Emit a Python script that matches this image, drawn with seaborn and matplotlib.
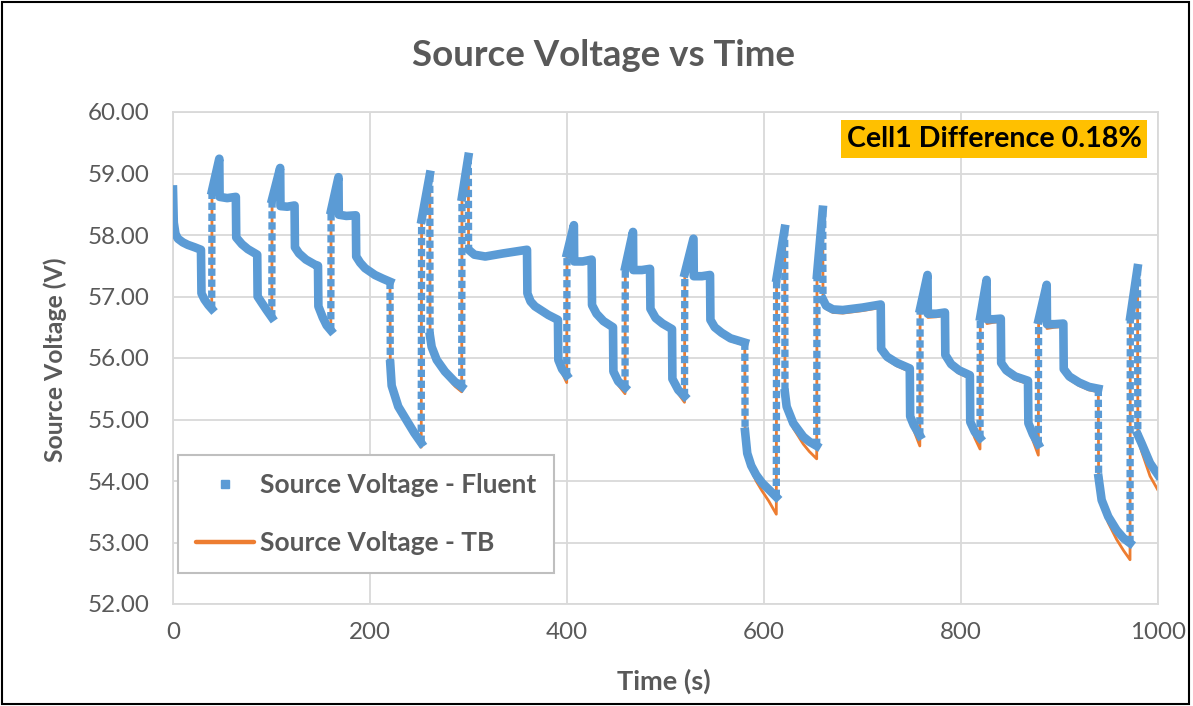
import numpy as np
import pandas as pd
import matplotlib
matplotlib.use("Agg")
import matplotlib.pyplot as plt
import seaborn as sns
from matplotlib.lines import Line2D
from matplotlib.patches import Rectangle

# ---------------- data ----------------
time_s = [
    0, 0.8, 2.5, 5, 10, 15, 22, 28.4, 28.9, 32, 36, 39.3,
    39.6, 47.0, 47.3, 55, 63.8, 64.2, 70, 76, 85.5, 85.9, 90, 95, 100.3,
    100.6, 108.8, 109.1, 116, 123.4, 123.8, 128, 135, 143.8, 147.2, 147.6, 152, 156, 160.2,
    160.5, 168, 168.3, 176, 185.6, 186, 190, 195, 205, 213, 220.3,
    220.6, 222, 228.7, 238.9, 245, 252,
    252.4, 260.7, 261.0, 262.6, 267.7, 276.1, 286.3, 293.1,
    293.4, 299.8, 300.1, 306, 317, 335, 359.4, 359.8, 363, 367.5, 381, 390.8, 391.2, 395, 399.7,
    400.0, 407, 407.3, 416, 425, 425.4, 430, 437, 446.7, 447.1, 452, 458.9,
    459.2, 467, 467.3, 476, 484.3, 484.7, 490, 497, 506.6, 507, 513, 519.3,
    519.6, 528.4, 528.7, 537, 545.2, 545.6, 550, 557, 566, 580.5,
    580.8, 583, 587, 592, 598, 605, 612.5,
    612.8, 621, 621.3, 623, 629.7, 639.9, 646, 653.5,
    653.8, 659.6, 659.9, 663, 670, 680, 700, 718.5, 718.9, 725, 735, 748, 748.4, 752, 758.2,
    758.5, 766, 766.3, 775, 783.7, 784.1, 790, 798, 809, 809.4, 814, 819.3,
    819.6, 826, 826.3, 833, 840.4, 840.8, 846, 855, 868, 868.4, 873, 878.5,
    878.8, 887, 887.3, 895, 903.9, 904.3, 910, 920, 930, 939.4,
    939.7, 942.8, 949.5, 958, 965, 971.6,
    971.9, 979.2, 979.5, 983.4, 991.9, 1000,
]

fluent_v = [
    58.74, 58.20, 58.02, 57.94, 57.88, 57.84, 57.80, 57.76, 57.05, 56.95, 56.86, 56.80,
    58.72, 59.24, 58.62, 58.60, 58.62, 57.96, 57.85, 57.77, 57.68, 57.00, 56.90, 56.78, 56.66,
    58.58, 59.09, 58.47, 58.46, 58.48, 57.80, 57.70, 57.60, 57.52, 57.50, 56.84, 56.66, 56.53, 56.45,
    58.40, 58.94, 58.33, 58.31, 58.32, 57.65, 57.55, 57.46, 57.35, 57.29, 57.24,
    55.90, 55.55, 55.21, 54.94, 54.78, 54.62,
    58.25, 58.98, 56.35, 56.18, 55.97, 55.78, 55.61, 55.53,
    58.62, 59.27, 57.76, 57.68, 57.65, 57.70, 57.76, 57.05, 56.92, 56.84, 56.70, 56.62, 55.97, 55.82, 55.72,
    57.70, 58.16, 57.57, 57.57, 57.60, 56.86, 56.72, 56.60, 56.50, 55.78, 55.62, 55.52,
    57.48, 58.05, 57.43, 57.43, 57.45, 56.80, 56.65, 56.56, 56.47, 55.66, 55.48, 55.38,
    57.38, 57.94, 57.33, 57.33, 57.35, 56.62, 56.50, 56.41, 56.32, 56.25,
    54.80, 54.45, 54.25, 54.10, 53.97, 53.86, 53.74,
    57.30, 58.10, 55.43, 55.21, 54.94, 54.72, 54.64, 54.57,
    57.35, 58.41, 56.95, 56.85, 56.79, 56.78, 56.82, 56.87, 56.15, 56.02, 55.92, 55.83, 55.05, 54.91, 54.74,
    56.80, 57.35, 56.72, 56.72, 56.74, 56.05, 55.90, 55.80, 55.72, 54.96, 54.80, 54.70,
    56.67, 57.27, 56.63, 56.63, 56.64, 55.92, 55.80, 55.70, 55.63, 54.94, 54.76, 54.60,
    56.62, 57.19, 56.55, 56.55, 56.56, 55.82, 55.70, 55.60, 55.53, 55.50,
    54.05, 53.69, 53.42, 53.20, 53.07, 52.99,
    56.67, 57.46, 54.75, 54.61, 54.29, 54.10,
]

tb_v = [
    58.74, 58.20, 58.02, 57.94, 57.88, 57.84, 57.80, 57.76, 57.05, 56.94, 56.84, 56.76,
    58.72, 59.24, 58.62, 58.60, 58.62, 57.96, 57.85, 57.77, 57.68, 57.00, 56.89, 56.76, 56.62,
    58.58, 59.09, 58.47, 58.46, 58.48, 57.80, 57.70, 57.60, 57.52, 57.50, 56.84, 56.64, 56.50, 56.41,
    58.40, 58.94, 58.33, 58.31, 58.32, 57.65, 57.55, 57.46, 57.35, 57.28, 57.23,
    55.88, 55.52, 55.17, 54.90, 54.73, 54.55,
    58.25, 58.98, 56.33, 56.15, 55.93, 55.73, 55.54, 55.45,
    58.62, 59.27, 57.74, 57.66, 57.63, 57.68, 57.74, 57.03, 56.89, 56.80, 56.66, 56.58, 55.93, 55.76, 55.60,
    57.70, 58.16, 57.55, 57.55, 57.58, 56.84, 56.69, 56.56, 56.46, 55.74, 55.56, 55.42,
    57.48, 58.05, 57.40, 57.41, 57.43, 56.77, 56.61, 56.52, 56.43, 55.62, 55.42, 55.28,
    57.38, 57.94, 57.30, 57.31, 57.33, 56.59, 56.46, 56.37, 56.28, 56.21,
    54.76, 54.40, 54.18, 54.00, 53.84, 53.67, 53.46,
    57.30, 58.10, 55.40, 55.16, 54.86, 54.60, 54.48, 54.36,
    57.35, 58.41, 56.93, 56.80, 56.74, 56.73, 56.77, 56.82, 56.11, 55.97, 55.87, 55.78, 54.98, 54.83, 54.57,
    56.80, 57.35, 56.66, 56.67, 56.69, 56.01, 55.85, 55.75, 55.67, 54.89, 54.70, 54.52,
    56.67, 57.27, 56.56, 56.58, 56.59, 55.88, 55.75, 55.65, 55.58, 54.87, 54.66, 54.42,
    56.62, 57.19, 56.48, 56.50, 56.51, 55.78, 55.65, 55.55, 55.48, 55.45,
    54.00, 53.62, 53.32, 53.05, 52.87, 52.72,
    56.67, 57.46, 54.70, 54.48, 54.08, 53.85,
]

chart_title = "Source Voltage vs Time"
x_label = "Time (s)"
y_label = "Source Voltage (V)"
series_names = ["Source Voltage - Fluent", "Source Voltage - TB"]
note_text = "Cell1 Difference 0.18%"
x_ticks = [0, 200, 400, 600, 800, 1000]
y_ticks = [52, 53, 54, 55, 56, 57, 58, 59, 60]

# ---------------- style ----------------
BLUE = "#5B9BD5"
ORANGE = "#ED7D31"
TEXT = "#595959"
GRID = "#D9D9D9"

sns.set_theme(style="whitegrid")
plt.rcParams["font.family"] = ["Lato", "DejaVu Sans"]

W, H = 1193, 706
fig = plt.figure(figsize=(W / 100, H / 100), dpi=100)
ax = fig.add_axes([173 / W, 1 - 604 / H, 985 / W, 492 / H])

df = pd.DataFrame({"t": time_s, "fluent": fluent_v, "tb": tb_v})

# TB series: thin orange line (drawn below the Fluent markers)
sns.lineplot(data=df, x="t", y="tb", ax=ax, color=ORANGE, linewidth=2.0,
             sort=False, estimator=None, zorder=2, legend=False)

# Fluent series: dense square markers -> thick band; sparse during fast jumps -> dotted
LW = 6.2
t = df["t"].to_numpy()
v = df["fluent"].to_numpy()
fast = (np.abs(np.diff(v)) > 1.0) & (np.diff(t) < 1.0)
runs = []
start = 0
for k in range(1, len(fast)):
    if fast[k] != fast[k - 1]:
        runs.append((start, k, fast[k - 1]))
        start = k
runs.append((start, len(fast), fast[-1]))
for s, e, is_fast in runs:
    xs, ys = t[s:e + 1], v[s:e + 1]
    if is_fast:
        ax.plot(xs, ys, color=BLUE, lw=LW * 0.85, ls=(0, (1, 0.5)),
                dash_capstyle="butt", zorder=3)
    else:
        ax.plot(xs, ys, color=BLUE, lw=LW, solid_capstyle="projecting",
                solid_joinstyle="round", zorder=3)

ax.set_xlim(0, 1000)
ax.set_ylim(52, 60)
ax.set_xticks(x_ticks)
ax.set_yticks(y_ticks)
ax.set_yticklabels([f"{y:.2f}" for y in y_ticks])
ax.tick_params(axis="both", length=0, labelsize=17.4, colors=TEXT)
ax.tick_params(axis="y", pad=17)
ax.tick_params(axis="x", pad=13)
ax.grid(True, color=GRID, linewidth=1.3)
ax.set_axisbelow(True)
for sp in ax.spines.values():
    sp.set_visible(True)
    sp.set_color(GRID)
    sp.set_linewidth(1.3)
ax.set_xlabel("")
ax.set_ylabel("")

fig.text(604 / W, 1 - 55 / H, chart_title, ha="center", va="center",
         fontsize=26.4, fontweight="bold", color=TEXT)
fig.text(664 / W, 1 - 681 / H, x_label, ha="center", va="center",
         fontsize=19.5, fontweight="bold", color=TEXT)
fig.text(55 / W, 1 - 360 / H, y_label, ha="center", va="center",
         rotation=90, fontsize=17.8, fontweight="bold", color=TEXT)

# annotation box
fig.text(994 / W, 1 - 139 / H, note_text, ha="center", va="center",
         fontsize=20.6, fontweight="bold", color="black",
         bbox=dict(boxstyle="square,pad=0.2", facecolor="#FFC000", edgecolor="none"))

# legend
handles = [
    Line2D([], [], ls="none", marker="s", markersize=6.0, color=BLUE),
    Line2D([], [], color=ORANGE, lw=3.2),
]
leg = fig.legend(handles, series_names, loc="lower left",
                 bbox_to_anchor=(178 / W, 1 - 573 / H), bbox_transform=fig.transFigure,
                 borderaxespad=0, frameon=True, fancybox=False, framealpha=1,
                 edgecolor="#BFBFBF", facecolor="white",
                 prop={"size": 19, "weight": "bold"}, handlelength=2.2,
                 handletextpad=0.23, labelspacing=1.3, borderpad=0.68)
leg.get_frame().set_linewidth(1.5)
for txt in leg.get_texts():
    txt.set_color(TEXT)

# outer chart border
fig.add_artist(Rectangle((0.002, 0.003), 0.995, 0.994, transform=fig.transFigure,
                         fill=False, edgecolor="black", linewidth=1.5))

fig.savefig("out.png", dpi=100, facecolor="white")
